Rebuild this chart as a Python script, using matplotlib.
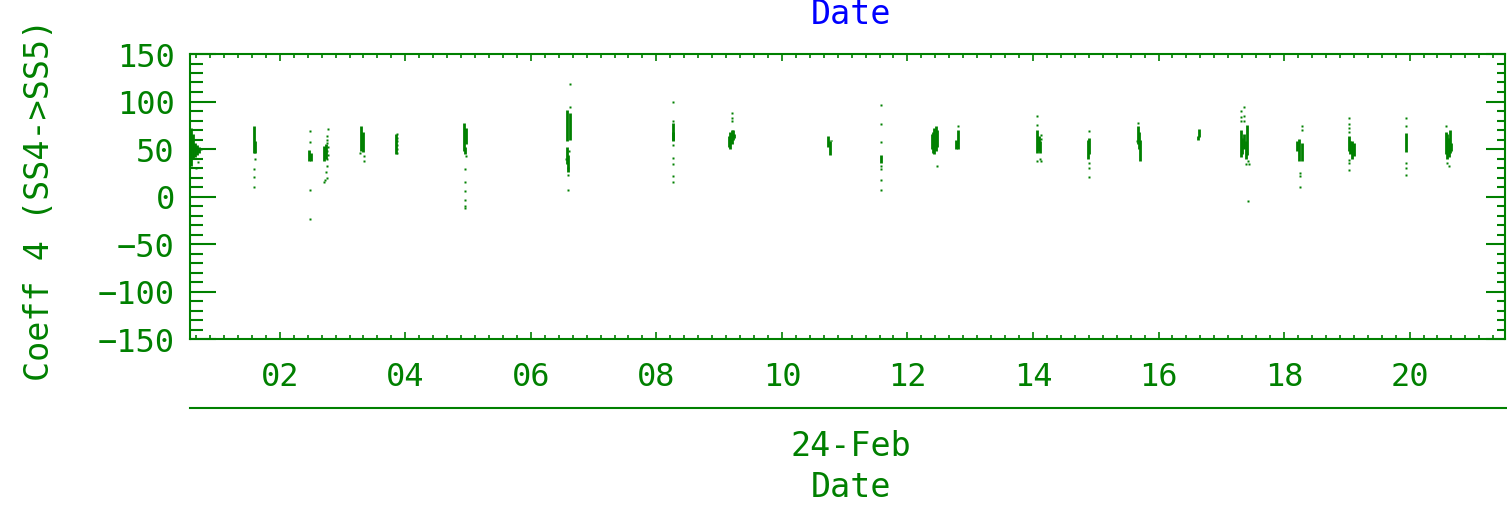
import numpy as np
import matplotlib
matplotlib.use('Agg')
import matplotlib.pyplot as plt
from matplotlib.ticker import MultipleLocator

# hours after 00:00 on 24-Feb; dense runs of points stored as (time, low, high)
seg_time = [0.59, 0.62, 0.65, 0.68, 0.72,
            1.59, 1.61,
            2.47, 2.49,
            2.71, 2.73,
            3.30, 3.32,
            3.85,
            4.94, 4.96, 4.95,
            6.58, 6.62, 6.57, 6.59,
            8.26, 8.27,
            9.16, 9.18, 9.20, 9.22, 9.23,
            10.74, 10.76, 10.78,
            11.58,
            12.39, 12.41, 12.43, 12.45, 12.47,
            12.81, 12.78,
            14.07, 14.09, 14.11,
            14.88, 14.90,
            15.67, 15.69, 15.71,
            16.63, 16.65,
            17.31, 17.33, 17.36, 17.39, 17.41,
            18.21, 18.24, 18.28,
            19.03, 19.05, 19.09, 19.11,
            19.94,
            20.58, 20.60, 20.62, 20.64, 20.66]
seg_lo = [32, 40, 42, 44, 46,
          46, 46,
          37, 37,
          37, 40,
          48, 47,
          45,
          48, 55, 45,
          58, 60, 34, 26,
          60, 58,
          52, 50, 55, 60, 62,
          52, 44, 58,
          35,
          50, 46, 45, 48, 52,
          50, 50,
          46, 48, 46,
          40, 45,
          55, 50, 37,
          59, 63,
          42, 45, 50, 39, 44,
          48, 37, 37,
          48, 45, 39, 43,
          47,
          45, 40, 42, 46, 48]
seg_hi = [72, 66, 56, 54, 52,
          74, 58,
          49, 46,
          53, 55,
          74, 68,
          66,
          77, 72, 52,
          91, 88, 52, 44,
          77, 68,
          64, 68, 70, 70, 66,
          64, 58, 60,
          44,
          66, 68, 72, 74, 70,
          70, 60,
          70, 64, 58,
          60, 62,
          74, 68, 60,
          64, 71,
          70, 62, 66, 58, 75,
          58, 61, 56,
          64, 58, 58, 56,
          67,
          68, 66, 62, 70, 56]

# isolated points
dot_time = [0.70, 0.66, 0.75,
            1.60, 1.59, 1.59, 1.59,
            2.48, 2.48, 2.48, 2.48,
            2.77, 2.76, 2.76, 2.76, 2.77, 2.76, 2.77, 2.76, 2.76, 2.73, 2.76, 2.71, 2.72,
            3.28, 3.34, 3.34,
            3.87, 3.87, 3.87, 3.87, 3.87, 3.87,
            4.96, 4.95, 4.95, 4.95, 4.95, 4.95, 4.95,
            6.62, 6.62, 6.56, 6.61, 6.60, 6.59, 6.60,
            8.26, 8.26, 8.26, 8.26, 8.26, 8.26, 8.26,
            9.21, 9.21, 9.21,
            11.58, 11.58, 11.58, 11.58, 11.58, 11.58, 11.58,
            12.47, 12.81,
            14.07, 14.07, 14.13, 14.13, 14.07, 14.12, 14.11,
            14.90, 14.89, 14.90, 14.89,
            15.67, 15.65,
            17.36, 17.31, 17.31, 17.36, 17.31, 17.36, 17.40, 17.42, 17.44, 17.42,
            18.28, 18.28, 18.26, 18.26, 18.26,
            19.03, 19.03, 19.03, 19.03, 19.03, 19.04, 19.03,
            19.94, 19.95, 19.94, 19.94, 19.94,
            20.58, 20.62, 20.60]
dot_val = [36, 30, 50,
           40, 29, 20.6, 9.8,
           68.5, 57.3, 6.6, -24.2,
           71.3, 64, 60, 56, 52, 48, 44, 40, 31.8, 26, 19, 15, 17,
           45.8, 42.3, 37,
           66, 62, 58, 54, 50, 46,
           42.3, 29, 15, 6.3, -3.2, -10.2, -12.6,
           118.5, 93.7, 40, 48, 30, 23, 6.6,
           99, 79.7, 53.8, 40.5, 34.6, 21.3, 15,
           88.4, 83, 79,
           96.5, 76.6, 57, 31.8, 29, 17.8, 6.6,
           31.8, 73.8,
           85, 75.5, 65, 61, 37, 37, 40,
           68.5, 35.3, 30, 20.6,
           77.3, 58,
           94.7, 90, 84, 84.3, 80, 79, 34.6, 37, 34.6, -5,
           74.5, 70, 24.8, 22, 9.8,
           82.5, 76, 72, 68, 38.8, 35, 28.3,
           82.5, 73.8, 35.3, 30, 23,
           73.8, 31.8, 35]

hour_ticks = [2, 4, 6, 8, 10, 12, 14, 16, 18, 20]
coeff_ticks = [-150, -100, -50, 0, 50, 100, 150]

green = '#008000'
blue = '#0000ff'
fs = 23
lfs = 24

plt.rcParams['font.family'] = ['DejaVu Sans Mono', 'DejaVu Sans']

fig = plt.figure(figsize=(15.07, 5.06), dpi=100)
ax = fig.add_axes([190/1507, 1 - 340/506, 1315/1507, 285/506])

ax.vlines(seg_time, seg_lo, seg_hi, color=green, lw=2.0)
ax.plot(dot_time, dot_val, 's', ms=2.0, color=green, mec='none', ls='none')

ax.set_xlim(0.57, 21.52)
ax.set_ylim(-150, 150)
ax.set_xticks(hour_ticks)
ax.set_xticklabels(['%02d' % h for h in hour_ticks])
ax.xaxis.set_minor_locator(MultipleLocator(2/9))
ax.set_yticks(coeff_ticks)
ax.yaxis.set_minor_locator(MultipleLocator(10))

for s in ax.spines.values():
    s.set_color(green)
    s.set_linewidth(1.5)

ax.tick_params(axis='x', which='major', direction='in', length=5, width=1.2,
               top=True, bottom=True, colors=green, labelsize=fs, pad=16)
ax.tick_params(axis='x', which='minor', direction='in', length=3, width=1.2,
               top=True, bottom=True, colors=green)
ax.tick_params(axis='y', which='major', direction='in', length=19, width=1.5,
               left=True, right=False, colors=green, labelsize=fs, pad=11)
ax.tick_params(axis='y', which='minor', direction='in', length=9, width=1.5,
               left=True, right=False, colors=green)

ax2 = ax.twinx()
ax2.set_ylim(-150, 150)
ax2.set_yticks(coeff_ticks)
ax2.yaxis.set_minor_locator(MultipleLocator(10))
ax2.tick_params(axis='y', which='major', direction='in', length=14, width=1.5,
                colors=green, labelright=False)
ax2.tick_params(axis='y', which='minor', direction='in', length=6, width=1.5,
                colors=green)
for s in ax2.spines.values():
    s.set_visible(False)

# second date axis line below the hour labels
ax.plot([0, 1.0016], [-0.242, -0.242], transform=ax.transAxes,
        color=green, lw=1.5, clip_on=False)

fig.text(851/1507, 1 - 447/506, '24-Feb', ha='center', va='center',
         color=green, fontsize=lfs)
fig.text(851/1507, 1 - 488/506, 'Date', ha='center', va='center',
         color=green, fontsize=lfs)
fig.text(851/1507, 1 - 15/506, 'Date', ha='center', va='center',
         color=blue, fontsize=lfs)
fig.text(40/1507, 1 - 200/506, 'Coeff 4 (SS4->SS5)', rotation=90,
         ha='center', va='center', color=green, fontsize=lfs)

fig.savefig('out.png', dpi=100)
